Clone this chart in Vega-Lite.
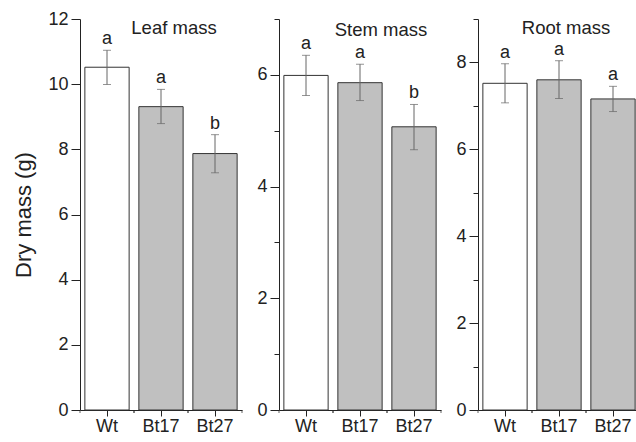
{
  "$schema": "https://vega.github.io/schema/vega-lite/v6.json",
  "padding": {"left": 12, "top": 10, "right": 0, "bottom": 0},
  "spacing": 37,
  "bounds": "flush",
  "datasets": {
    "mass": [
      {"panel": "Leaf", "g": "Wt", "mean": 10.52, "lo": 9.99, "hi": 11.04, "letter": "a"},
      {"panel": "Leaf", "g": "Bt17", "mean": 9.31, "lo": 8.79, "hi": 9.84, "letter": "a"},
      {"panel": "Leaf", "g": "Bt27", "mean": 7.87, "lo": 7.28, "hi": 8.45, "letter": "b"},
      {"panel": "Stem", "g": "Wt", "mean": 5.99, "lo": 5.63, "hi": 6.35, "letter": "a"},
      {"panel": "Stem", "g": "Bt17", "mean": 5.86, "lo": 5.54, "hi": 6.19, "letter": "a"},
      {"panel": "Stem", "g": "Bt27", "mean": 5.07, "lo": 4.66, "hi": 5.47, "letter": "b"},
      {"panel": "Root", "g": "Wt", "mean": 7.52, "lo": 7.07, "hi": 7.97, "letter": "a"},
      {"panel": "Root", "g": "Bt17", "mean": 7.60, "lo": 7.17, "hi": 8.04, "letter": "a"},
      {"panel": "Root", "g": "Bt27", "mean": 7.16, "lo": 6.87, "hi": 7.45, "letter": "a"}
    ],
    "titles": [
      {"panel": "Leaf", "label": "Leaf mass"},
      {"panel": "Stem", "label": "Stem mass"},
      {"panel": "Root", "label": "Root mass"}
    ]
  },
  "hconcat": [
    {
      "width": 162,
      "height": 391,
      "encoding": {
        "x": {"field": "g", "type": "nominal", "sort": ["Wt", "Bt17", "Bt27"], "scale": {"paddingInner": 0, "paddingOuter": 0}, "axis": {"title": null}}
      },
      "layer": [
        {
          "data": {"name": "mass"},
          "transform": [{"filter": "datum.panel == 'Leaf'"}],
          "layer": [
            {
              "mark": {"type": "bar", "width": {"band": 0.82}, "stroke": "#333", "strokeWidth": 1},
              "encoding": {
                "y": {"field": "mean", "type": "quantitative", "scale": {"domain": [0, 12], "nice": false},
                  "axis": {"title": "Dry mass (g)", "values": [0, 1, 2, 3, 4, 5, 6, 7, 8, 9, 10, 11, 12], "format": "d",
                    "labelExpr": "datum.value % 2 == 0 ? datum.label : ''",
                    "tickSize": {"condition": {"test": "datum.value % 2 == 1", "value": 5}, "value": 9}}},
                "fill": {"field": "g", "type": "nominal", "scale": {"domain": ["Wt", "Bt17", "Bt27"], "range": ["#ffffff", "#c0c0c0", "#c0c0c0"]}, "legend": null}
              }
            },
            {"mark": {"type": "rule", "color": "#666"}, "encoding": {"y": {"field": "lo", "type": "quantitative"}, "y2": {"field": "hi"}}},
            {"mark": {"type": "tick", "color": "#666", "size": 8, "thickness": 1}, "encoding": {"y": {"field": "lo", "type": "quantitative"}}},
            {"mark": {"type": "tick", "color": "#666", "size": 8, "thickness": 1}, "encoding": {"y": {"field": "hi", "type": "quantitative"}}},
            {"mark": {"type": "text", "baseline": "alphabetic", "dy": -6, "fontSize": 18}, "encoding": {"y": {"field": "hi", "type": "quantitative"}, "text": {"field": "letter"}}},
            {"mark": {"type": "tick", "orient": "vertical", "size": 3, "thickness": 1, "color": "#222", "yOffset": 1.5},
              "encoding": {"x": {"field": "g", "type": "nominal", "sort": ["Wt", "Bt17", "Bt27"], "bandPosition": 0}, "y": {"datum": 0}}},
            {"mark": {"type": "tick", "orient": "vertical", "size": 3, "thickness": 1, "color": "#222", "yOffset": 1.5},
              "encoding": {"x": {"field": "g", "type": "nominal", "sort": ["Wt", "Bt17", "Bt27"], "bandPosition": 1}, "y": {"datum": 0}}}
          ]
        },
        {
          "data": {"name": "titles"},
          "transform": [{"filter": "datum.panel == 'Leaf'"}],
          "mark": {"type": "text", "fontSize": 18.5, "baseline": "alphabetic", "dx": 13},
          "encoding": {"x": {"datum": "Bt17"}, "y": {"datum": 11.55}, "text": {"field": "label"}}
        }
      ]
    },
    {
      "width": 162,
      "height": 391,
      "encoding": {
        "x": {"field": "g", "type": "nominal", "sort": ["Wt", "Bt17", "Bt27"], "scale": {"paddingInner": 0, "paddingOuter": 0}, "axis": {"title": null}}
      },
      "layer": [
        {
          "data": {"name": "mass"},
          "transform": [{"filter": "datum.panel == 'Stem'"}],
          "layer": [
            {
              "mark": {"type": "bar", "width": {"band": 0.82}, "stroke": "#333", "strokeWidth": 1},
              "encoding": {
                "y": {"field": "mean", "type": "quantitative", "scale": {"domain": [0, 7], "nice": false},
                  "axis": {"title": null, "values": [0, 1, 2, 3, 4, 5, 6, 7], "format": "d",
                    "labelExpr": "datum.value % 2 == 0 ? datum.label : ''",
                    "tickSize": {"condition": {"test": "datum.value % 2 == 1", "value": 5}, "value": 9}}},
                "fill": {"field": "g", "type": "nominal", "scale": {"domain": ["Wt", "Bt17", "Bt27"], "range": ["#ffffff", "#c0c0c0", "#c0c0c0"]}, "legend": null}
              }
            },
            {"mark": {"type": "rule", "color": "#666"}, "encoding": {"y": {"field": "lo", "type": "quantitative"}, "y2": {"field": "hi"}}},
            {"mark": {"type": "tick", "color": "#666", "size": 8, "thickness": 1}, "encoding": {"y": {"field": "lo", "type": "quantitative"}}},
            {"mark": {"type": "tick", "color": "#666", "size": 8, "thickness": 1}, "encoding": {"y": {"field": "hi", "type": "quantitative"}}},
            {"mark": {"type": "text", "baseline": "alphabetic", "dy": -6, "fontSize": 18}, "encoding": {"y": {"field": "hi", "type": "quantitative"}, "text": {"field": "letter"}}},
            {"mark": {"type": "tick", "orient": "vertical", "size": 3, "thickness": 1, "color": "#222", "yOffset": 1.5},
              "encoding": {"x": {"field": "g", "type": "nominal", "sort": ["Wt", "Bt17", "Bt27"], "bandPosition": 0}, "y": {"datum": 0}}},
            {"mark": {"type": "tick", "orient": "vertical", "size": 3, "thickness": 1, "color": "#222", "yOffset": 1.5},
              "encoding": {"x": {"field": "g", "type": "nominal", "sort": ["Wt", "Bt17", "Bt27"], "bandPosition": 1}, "y": {"datum": 0}}}
          ]
        },
        {
          "data": {"name": "titles"},
          "transform": [{"filter": "datum.panel == 'Stem'"}],
          "mark": {"type": "text", "fontSize": 18.5, "baseline": "alphabetic", "dx": 21},
          "encoding": {"x": {"datum": "Bt17"}, "y": {"datum": 6.7}, "text": {"field": "label"}}
        }
      ]
    },
    {
      "width": 162,
      "height": 391,
      "encoding": {
        "x": {"field": "g", "type": "nominal", "sort": ["Wt", "Bt17", "Bt27"], "scale": {"paddingInner": 0, "paddingOuter": 0}, "axis": {"title": null}}
      },
      "layer": [
        {
          "data": {"name": "mass"},
          "transform": [{"filter": "datum.panel == 'Root'"}],
          "layer": [
            {
              "mark": {"type": "bar", "width": {"band": 0.82}, "stroke": "#333", "strokeWidth": 1},
              "encoding": {
                "y": {"field": "mean", "type": "quantitative", "scale": {"domain": [0, 9], "nice": false},
                  "axis": {"title": null, "values": [0, 1, 2, 3, 4, 5, 6, 7, 8, 9], "format": "d",
                    "labelExpr": "datum.value % 2 == 0 ? datum.label : ''",
                    "tickSize": {"condition": {"test": "datum.value % 2 == 1", "value": 5}, "value": 9}}},
                "fill": {"field": "g", "type": "nominal", "scale": {"domain": ["Wt", "Bt17", "Bt27"], "range": ["#ffffff", "#c0c0c0", "#c0c0c0"]}, "legend": null}
              }
            },
            {"mark": {"type": "rule", "color": "#666"}, "encoding": {"y": {"field": "lo", "type": "quantitative"}, "y2": {"field": "hi"}}},
            {"mark": {"type": "tick", "color": "#666", "size": 8, "thickness": 1}, "encoding": {"y": {"field": "lo", "type": "quantitative"}}},
            {"mark": {"type": "tick", "color": "#666", "size": 8, "thickness": 1}, "encoding": {"y": {"field": "hi", "type": "quantitative"}}},
            {"mark": {"type": "text", "baseline": "alphabetic", "dy": -6, "fontSize": 18}, "encoding": {"y": {"field": "hi", "type": "quantitative"}, "text": {"field": "letter"}}},
            {"mark": {"type": "tick", "orient": "vertical", "size": 3, "thickness": 1, "color": "#222", "yOffset": 1.5},
              "encoding": {"x": {"field": "g", "type": "nominal", "sort": ["Wt", "Bt17", "Bt27"], "bandPosition": 0}, "y": {"datum": 0}}},
            {"mark": {"type": "tick", "orient": "vertical", "size": 3, "thickness": 1, "color": "#222", "yOffset": 1.5},
              "encoding": {"x": {"field": "g", "type": "nominal", "sort": ["Wt", "Bt17", "Bt27"], "bandPosition": 1}, "y": {"datum": 0}}}
          ]
        },
        {
          "data": {"name": "titles"},
          "transform": [{"filter": "datum.panel == 'Root'"}],
          "mark": {"type": "text", "fontSize": 18.5, "baseline": "alphabetic", "dx": 7},
          "encoding": {"x": {"datum": "Bt17"}, "y": {"datum": 8.66}, "text": {"field": "label"}}
        }
      ]
    }
  ],
  "config": {
    "font": "Liberation Sans",
    "view": {"stroke": null},
    "text": {"color": "#222", "font": "Liberation Sans"},
    "axis": {
      "grid": false,
      "domainColor": "#222",
      "tickColor": "#222",
      "labelColor": "#222",
      "labelFontSize": 18,
      "labelFont": "Liberation Sans",
      "titleFont": "Liberation Sans",
      "titleFontSize": 22,
      "titleFontWeight": "normal",
      "titleColor": "#222"
    },
    "axisX": {"labelAngle": 0, "tickSize": 6, "labelPadding": 1},
    "axisY": {"labelPadding": 3, "titlePadding": 12}
  }
}
